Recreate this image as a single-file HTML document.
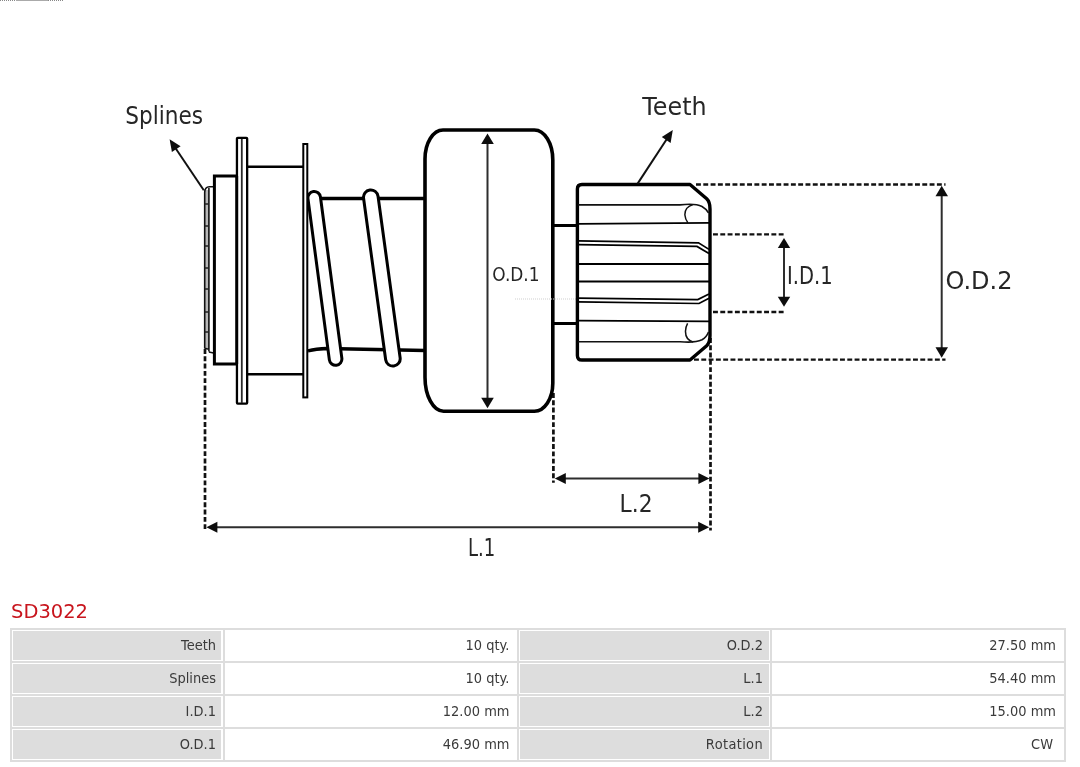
<!DOCTYPE html>
<html lang="en">
<head>
<meta charset="utf-8">
<title>SD3022</title>
<style>
html,body{margin:0;padding:0;background:#fff;}
body{width:1080px;height:767px;position:relative;overflow:hidden;will-change:transform;font-family:"DejaVu Sans","Liberation Sans",sans-serif;}
#drawing{position:absolute;left:0;top:0;width:1080px;height:590px;display:block;}
#drawing text{font-family:"DejaVu Sans","Liberation Sans",sans-serif;font-weight:400;fill:#262626;}
h1{position:absolute;left:11px;top:599.6px;margin:0;font-size:19.5px;line-height:24px;font-weight:normal;color:#c8151d;letter-spacing:0;transform:scaleY(1.035);transform-origin:0 75%;}
table{position:absolute;left:10px;top:628px;width:1056px;border:1px solid #ddd;border-collapse:separate;border-spacing:0;table-layout:fixed;font-size:13px;color:#3a3a3a;}
th,td{border:1px solid #ddd;height:33px;padding:0 8px 0 0;text-align:right;font-weight:normal;vertical-align:middle;box-sizing:border-box;line-height:16px;}
th{background:#ddd;box-shadow:inset 0 0 0 1px #fff;padding-right:7px;}
th span,td span{display:inline-block;transform:scaleY(1.06);transform-origin:50% 75%;}
th:first-child{box-shadow:inset 0 0 0 1px #fff, inset -2px 0 0 0 #fff;}
td:nth-child(2){padding-right:7.5px}
td.cw{padding-right:11px}
.rot{letter-spacing:0.35px}
col.c1{width:213px}col.c2{width:294px}col.c3{width:253px}col.c4{width:294px}
</style>
</head>
<body>
<svg id="drawing" viewBox="0 0 1080 590" width="1080" height="590">
<line x1="0" y1="0.5" x2="64" y2="0.5" stroke="#888" stroke-width="1" stroke-dasharray="1 1"/>
<line x1="16" y1="0.5" x2="48" y2="0.5" stroke="#aaa" stroke-width="1"/>
<path d="M696,184.5 H945.5 M713,234.3 H786 M713,312 H786 M694,359.6 H945.5" stroke="#111" stroke-width="2.3" stroke-dasharray="4.9 2.4" fill="none"/>
<path d="M205,349 V530.5 M553.4,393 V482.8 M710.5,338 V530.5" stroke="#111" stroke-width="2.7" stroke-dasharray="4.9 2.4" fill="none"/>
<rect x="204.7" y="190" width="4.1" height="158" fill="#b8b8b8"/>
<path d="M204.7,348.5 V192.5 Q204.7,187 209.5,186.8 H213.5 M208.9,188 V351.5 M204.7,348.3 L208.9,349.2 M208.9,352 L213.5,353" fill="none" stroke="#111" stroke-width="1.6"/>
<path d="M204.7,204 H208.9 M204.7,226 H208.9 M204.7,246 H208.9 M204.7,268 H208.9 M204.7,289 H208.9 M204.7,312 H208.9 M204.7,332 H208.9" stroke="#222" stroke-width="1.3"/>
<path d="M236.5,176 H214.4 V364 H236.5" fill="#fff" stroke="#000" stroke-width="3"/>
<path d="M248,166.8 H303 M248,374.3 H303" stroke="#000" stroke-width="2.6" fill="none"/>
<rect x="236.95" y="137.8" width="10.2" height="265.8" rx="0.8" fill="#fff" stroke="#000" stroke-width="2.3"/>
<line x1="236.7" y1="176" x2="236.7" y2="364" stroke="#000" stroke-width="2.9"/>
<line x1="241.8" y1="139" x2="241.8" y2="403" stroke="#2a2a2a" stroke-width="1.8"/>
<path d="M318,198.5 H425 M308,350.8 Q316,348.9 327,348.5 L425,350.5" stroke="#000" stroke-width="3.3" fill="none"/>
<line x1="314.2" y1="197.8" x2="335.6" y2="359" stroke="#000" stroke-width="15.6" stroke-linecap="round"/><line x1="314.2" y1="197.8" x2="335.6" y2="359" stroke="#fff" stroke-width="9.6" stroke-linecap="round"/>
<line x1="370.8" y1="197.2" x2="392.9" y2="358.8" stroke="#000" stroke-width="17.6" stroke-linecap="round"/><line x1="370.8" y1="197.2" x2="392.9" y2="358.8" stroke="#fff" stroke-width="11.600000000000001" stroke-linecap="round"/>
<rect x="303.3" y="144" width="4.0" height="253.4" fill="#fff" stroke="#000" stroke-width="2.0"/>
<path d="M443,130 H534.4 A18.4,30 0 0 1 552.8,160 V383 A18.4,28 0 0 1 534.4,411.2 H443.5 A18.5,34 0 0 1 425,377 V159 A18,29 0 0 1 443,130 Z" fill="#fff" stroke="#000" stroke-width="3.6"/>
<line x1="515" y1="299" x2="577" y2="299" stroke="#cfcfcf" stroke-width="1" stroke-dasharray="1 1"/>
<line x1="487.5" y1="141.9" x2="487.5" y2="399.9" stroke="#2e2e2e" stroke-width="2"/><polygon points="487.5,133.5 493.8,144.0 481.2,144.0" fill="#0d0d0d"/><polygon points="487.5,408.3 481.2,397.8 493.8,397.8" fill="#0d0d0d"/>
<path d="M553,225.4 H577 M553,323.5 H577" stroke="#000" stroke-width="3" fill="none"/>
<path d="M582,184.5 H690 L706.7,198.8 Q710,202 710,209 V335.6 Q710,342.6 706.7,345.8 L690,360 H582 Q577.4,360 577.4,355.4 V189.1 Q577.4,184.5 582,184.5 Z" fill="#fff" stroke="#000" stroke-width="3.4" stroke-linejoin="round"/>
<path d="M578,204.9 H680 Q695,203 702,206.5 Q706.5,209 708.5,213 M578,341.7 H680 Q695,343.1 702,339.8 Q706.5,337.3 708.5,332" stroke="#111" stroke-width="1.6" fill="none"/>
<path d="M693,204.6 Q684.6,207 684.9,215 Q685.3,219.5 687.8,222.6 M693,342 Q685.2,339.5 685.5,331 Q685.8,326.5 687.6,323.4" stroke="#111" stroke-width="1.5" fill="none"/>
<path d="M578,223.9 L709,222.9 M578,320.6 L709,321.4" stroke="#000" stroke-width="1.9" fill="none"/>
<path d="M578,263.9 H709 M578,281.4 H709" stroke="#000" stroke-width="2" fill="none"/>
<path d="M578,240.8 L698.5,242.8 L709,249.4 M578,244.6 L697,246.4 L709,253.6 M578,298.2 L697.8,299.6 L709,294 M578,301.9 L699,303.5 L709,298.2" stroke="#000" stroke-width="1.7" fill="none"/>
<line x1="203.8" y1="190.3" x2="174.9" y2="147.2" stroke="#111" stroke-width="2"/><polygon points="169.6,139.2 180.6,146.3 171.9,152.1" fill="#0d0d0d"/>
<line x1="637.6" y1="183.6" x2="667.5" y2="138.0" stroke="#111" stroke-width="2"/><polygon points="672.8,130.0 670.6,142.9 661.8,137.1" fill="#0d0d0d"/>
<line x1="784.0" y1="246.0" x2="784.0" y2="298.7" stroke="#2e2e2e" stroke-width="2"/><polygon points="784.0,238.0 790.2,248.0 777.8,248.0" fill="#0d0d0d"/><polygon points="784.0,306.7 777.8,296.7 790.2,296.7" fill="#0d0d0d"/>
<line x1="941.7" y1="194.2" x2="941.7" y2="349.4" stroke="#2e2e2e" stroke-width="2"/><polygon points="941.7,185.8 948.0,196.3 935.5,196.3" fill="#0d0d0d"/><polygon points="941.7,357.8 935.5,347.3 948.0,347.3" fill="#0d0d0d"/>
<line x1="563.6" y1="478.6" x2="700.6" y2="478.6" stroke="#2e2e2e" stroke-width="2"/><polygon points="554.8,478.6 565.8,473.1 565.8,484.1" fill="#0d0d0d"/><polygon points="709.4,478.6 698.4,484.1 698.4,473.1" fill="#0d0d0d"/>
<line x1="215.2" y1="527.2" x2="700.4" y2="527.2" stroke="#2e2e2e" stroke-width="2"/><polygon points="206.4,527.2 217.4,521.7 217.4,532.7" fill="#0d0d0d"/><polygon points="709.2,527.2 698.2,532.7 698.2,521.7" fill="#0d0d0d"/>
<text x="125.35" y="124.1" font-size="24.0" textLength="77.77" lengthAdjust="spacingAndGlyphs">Splines</text>
<text x="642.35" y="115.0" font-size="24.0" textLength="64.26" lengthAdjust="spacingAndGlyphs">Teeth</text>
<text x="492.2" y="280.8" font-size="20.2" textLength="47.4" lengthAdjust="spacingAndGlyphs">O.D.1</text>
<text x="786.97" y="283.7" font-size="24.4" textLength="45.59" lengthAdjust="spacingAndGlyphs">I.D.1</text>
<text x="945.56" y="289.0" font-size="25.0" textLength="66.96" lengthAdjust="spacingAndGlyphs">O.D.2</text>
<text x="619.54" y="512.0" font-size="25.2" textLength="33.0" lengthAdjust="spacingAndGlyphs">L.2</text>
<text x="467.88" y="555.9" font-size="25.2" textLength="27.25" lengthAdjust="spacingAndGlyphs">L.1</text>
</svg>
<h1>SD3022</h1>
<table>
<colgroup><col class="c1"><col class="c2"><col class="c3"><col class="c4"></colgroup>
<tr><th><span>Teeth</span></th><td><span>10 qty.</span></td><th><span>O.D.2</span></th><td><span>27.50 mm</span></td></tr>
<tr><th><span>Splines</span></th><td><span>10 qty.</span></td><th><span>L.1</span></th><td><span>54.40 mm</span></td></tr>
<tr><th><span>I.D.1</span></th><td><span>12.00 mm</span></td><th><span>L.2</span></th><td><span>15.00 mm</span></td></tr>
<tr><th><span>O.D.1</span></th><td><span>46.90 mm</span></td><th><span class="rot">Rotation</span></th><td class="cw"><span>CW</span></td></tr>
</table>
</body>
</html>
